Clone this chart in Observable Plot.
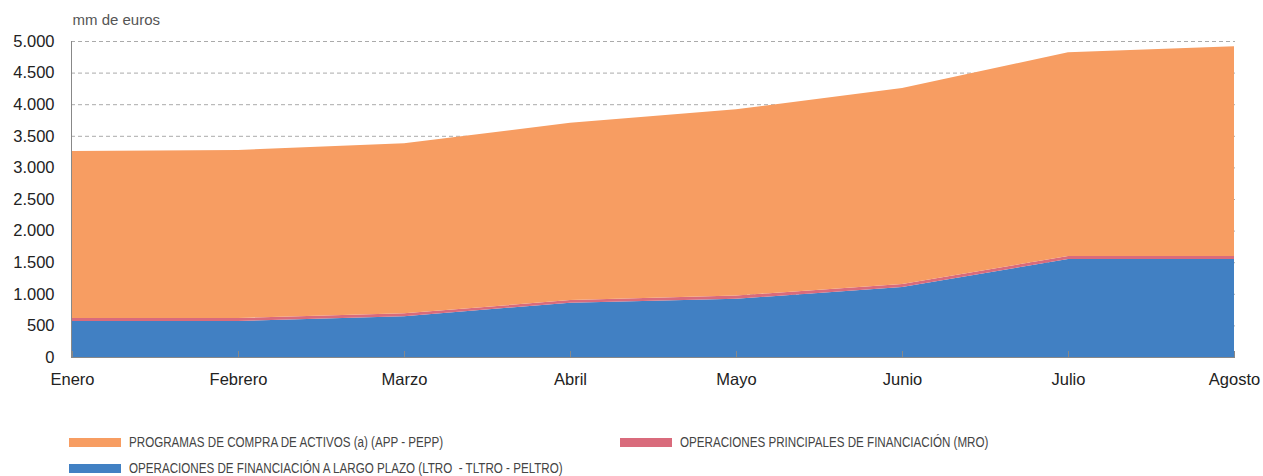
<!DOCTYPE html>
<html>
<head>
<meta charset="utf-8">
<script src="https://cdn.jsdelivr.net/npm/d3@7"></script>
<script src="https://cdn.jsdelivr.net/npm/@observablehq/plot@0.6"></script>
<style>
  html, body { margin: 0; padding: 0; background: #fff; }
  #wrap { width: 1263px; }
  #legend { position: relative; width: 1263px; height: 76px; font-family: "Liberation Sans", Arial, sans-serif; font-size: 14px; color: #444; }
  .item { position: absolute; display: flex; align-items: center; height: 20px; white-space: nowrap; }
  .sw { width: 52px; height: 9px; margin-right: 8px; flex: none; }
  .tx { display: inline-block; white-space: pre; transform: scaleX(0.83); transform-origin: left center; }
</style>
</head>
<body>
<div id="wrap">
  <div id="chart"></div>
  <div id="legend"></div>
</div>
<script>
const months = ["Enero", "Febrero", "Marzo", "Abril", "Mayo", "Junio", "Julio", "Agosto"];
const seriesNames = [
  "OPERACIONES DE FINANCIACIÓN A LARGO PLAZO (LTRO  - TLTRO - PELTRO)",
  "OPERACIONES PRINCIPALES DE FINANCIACIÓN (MRO)",
  "PROGRAMAS DE COMPRA DE ACTIVOS (a) (APP - PEPP)"
];
const seriesColors = ["#4180C3", "#D96B7C", "#F79D62"];
const ltro = [570, 570, 644, 860, 922, 1108, 1551, 1551];
const mro  = [47, 47, 47, 40, 52, 47, 47, 47];
const app  = [2642, 2658, 2690, 2807, 2945, 3101, 3225, 3317];
const yTicks = [0, 500, 1000, 1500, 2000, 2500, 3000, 3500, 4000, 4500, 5000];
const yLabel = "mm de euros";

const seriesValues = [ltro, mro, app];
const data = [];
seriesNames.forEach((s, si) => {
  months.forEach((m, mi) => data.push({month: m, series: s, value: seriesValues[si][mi]}));
});

const fmt = d => d3.format(",")(d).replace(/,/g, ".");

const chart = Plot.plot({
  width: 1263,
  height: 400,
  marginLeft: 71,
  marginRight: 28,
  marginTop: 41,
  marginBottom: 43,
  style: {fontFamily: "Liberation Sans, Arial, sans-serif", fontSize: "16.5px", color: "#222", background: "#fff"},
  x: {type: "point", domain: months, padding: 0},
  y: {domain: [0, 5000]},
  color: {domain: seriesNames, range: seriesColors},
  marks: [
    Plot.ruleY(yTicks.filter(d => d > 0), {stroke: "#aaa", strokeDasharray: "4,3"}),
    Plot.areaY(data, {x: "month", y: "value", z: "series", fill: "series", order: seriesNames}),
    Plot.ruleY([0], {stroke: "#888"}),
    Plot.frame({anchor: "left", stroke: "#888"}),
    Plot.ruleX(months, {x: d => d, y1: 0, y2: 0, insetTop: -6, stroke: "#888"}),
    Plot.axisX({tickSize: 0, tickPadding: 16, label: null, fill: "#222"}),
    Plot.axisY({ticks: yTicks, tickSize: 0, tickPadding: 17, tickFormat: fmt, label: null, fill: "#222"}),
    Plot.text([yLabel], {frameAnchor: "top-left", textAnchor: "start", lineAnchor: "middle", dx: 1, dy: -21, fontSize: 15, fill: "#555"})
  ]
});
document.getElementById("chart").appendChild(chart);

const legendItems = [
  {name: seriesNames[2], color: seriesColors[2], left: 69, top: 32},
  {name: seriesNames[1], color: seriesColors[1], left: 620, top: 32},
  {name: seriesNames[0], color: seriesColors[0], left: 69, top: 58}
];
const legend = document.getElementById("legend");
legendItems.forEach(it => {
  const d = document.createElement("div");
  d.className = "item";
  d.style.left = it.left + "px";
  d.style.top = it.top + "px";
  const sw = document.createElement("span");
  sw.className = "sw";
  sw.style.background = it.color;
  const t = document.createElement("span");
  t.className = "tx";
  t.textContent = it.name;
  d.appendChild(sw);
  d.appendChild(t);
  legend.appendChild(d);
});
</script>
</body>
</html>
